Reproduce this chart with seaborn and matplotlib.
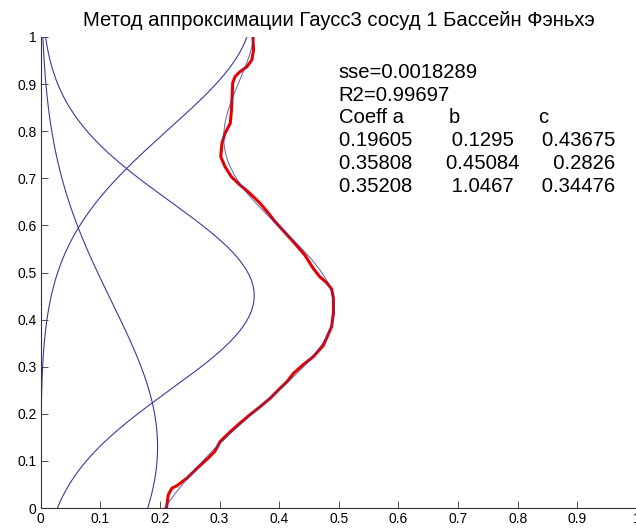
import numpy as np
import pandas as pd
import matplotlib
matplotlib.use("Agg")
import matplotlib.pyplot as plt
import seaborn as sns

# Fit results for the three Gaussian terms: x = a * exp(-((y - b) / c)^2)
coef_a = [0.19605, 0.35808, 0.35208]
coef_b = [0.1295, 0.45084, 1.0467]
coef_c = [0.43675, 0.2826, 0.34476]
sse = "0.0018289"
r2 = "0.99697"

# Measured profile (x = value, y = relative depth)
profile_x = [0.211, 0.214, 0.220, 0.228, 0.245, 0.262, 0.281, 0.292, 0.301, 0.318,
             0.334, 0.351, 0.368, 0.385, 0.399, 0.413, 0.424, 0.440, 0.457, 0.474,
             0.488, 0.491, 0.491, 0.488, 0.480, 0.468, 0.457, 0.443, 0.424, 0.401,
             0.393, 0.382, 0.368, 0.351, 0.334, 0.320, 0.309, 0.302, 0.304, 0.309,
             0.318, 0.320, 0.321, 0.322, 0.326, 0.334, 0.346, 0.354, 0.357, 0.356]
profile_y = [0.000, 0.028, 0.042, 0.047, 0.063, 0.084, 0.106, 0.120, 0.141, 0.162,
             0.180, 0.198, 0.215, 0.233, 0.251, 0.268, 0.286, 0.304, 0.321, 0.345,
             0.385, 0.415, 0.445, 0.465, 0.478, 0.491, 0.509, 0.537, 0.565, 0.597,
             0.608, 0.626, 0.647, 0.668, 0.686, 0.703, 0.725, 0.746, 0.774, 0.795,
             0.817, 0.845, 0.873, 0.902, 0.916, 0.926, 0.937, 0.951, 0.972, 1.000]

x_ticks = [0, 0.1, 0.2, 0.3, 0.4, 0.5, 0.6, 0.7, 0.8, 0.9, 1]
y_ticks = [0, 0.1, 0.2, 0.3, 0.4, 0.5, 0.6, 0.7, 0.8, 0.9, 1]
tick_labels = ["0", "0.1", "0.2", "0.3", "0.4", "0.5", "0.6", "0.7", "0.8", "0.9", "1"]

title = "Метод аппроксимации Гаусс3 сосуд 1 Бассейн Фэньхэ"

sns.set_theme(style="white")
plt.rcParams["font.family"] = ["Liberation Sans", "DejaVu Sans"]

W, H = 636, 529
fig = plt.figure(figsize=(W / 100, H / 100), dpi=100)
ax = fig.add_axes([40.7 / W, (H - 508) / H, 596.2 / W, 471 / H])

line_blue = "#3a3a9e"
depth = np.linspace(0, 1, 201)
terms = [a * np.exp(-((depth - b) / c) ** 2) for a, b, c in zip(coef_a, coef_b, coef_c)]
total = np.sum(terms, axis=0)

for term in terms:
    df = pd.DataFrame({"x": term, "y": depth})
    sns.lineplot(data=df, x="x", y="y", sort=False, estimator=None,
                 color=line_blue, linewidth=0.8, ax=ax)

prof = pd.DataFrame({"x": profile_x, "y": profile_y})
sns.lineplot(data=prof, x="x", y="y", sort=False, estimator=None,
             color="#e60000", linewidth=2.2, ax=ax)
sns.lineplot(data=pd.DataFrame({"x": total, "y": depth}), x="x", y="y", sort=False,
             estimator=None, color=line_blue, linewidth=0.7, alpha=0.8, ax=ax)

ax.set_xlim(0, 1)
ax.set_ylim(0, 1)
ax.set_xticks(x_ticks)
ax.set_xticklabels(tick_labels)
ax.set_yticks(y_ticks)
ax.set_yticklabels(tick_labels)
ax.set_xlabel("")
ax.set_ylabel("")
for side in ("top", "right"):
    ax.spines[side].set_visible(False)
for side in ("left", "bottom"):
    ax.spines[side].set_color("#333333")
    ax.spines[side].set_linewidth(0.8)
ax.tick_params(axis="both", direction="in", length=5, width=0.6, color="#333333",
               labelsize=10, labelcolor="black", pad=3, bottom=True, left=True)
ax.patch.set_alpha(0)

fig.text(338.8 / W, 1 - 20 / H, title, ha="center", va="center", fontsize=14.6, color="black")

rows = [
    f"sse={sse}",
    f"R2={r2}",
    "Coeff a        b              c",
]
for a, b, c in zip(coef_a, coef_b, coef_c):
    rows.append(f"{a:<7g}" + f"{b:>13g}" + f"{c:>12g}")


def ypix(p):
    return (508 - p) / 471


for i, row in enumerate(rows):
    ax.text(0.5, ypix(72.5 + 22.7 * i), row, ha="left", va="center",
            fontsize=14.6, color="black")

fig.savefig("out.png", dpi=100)
